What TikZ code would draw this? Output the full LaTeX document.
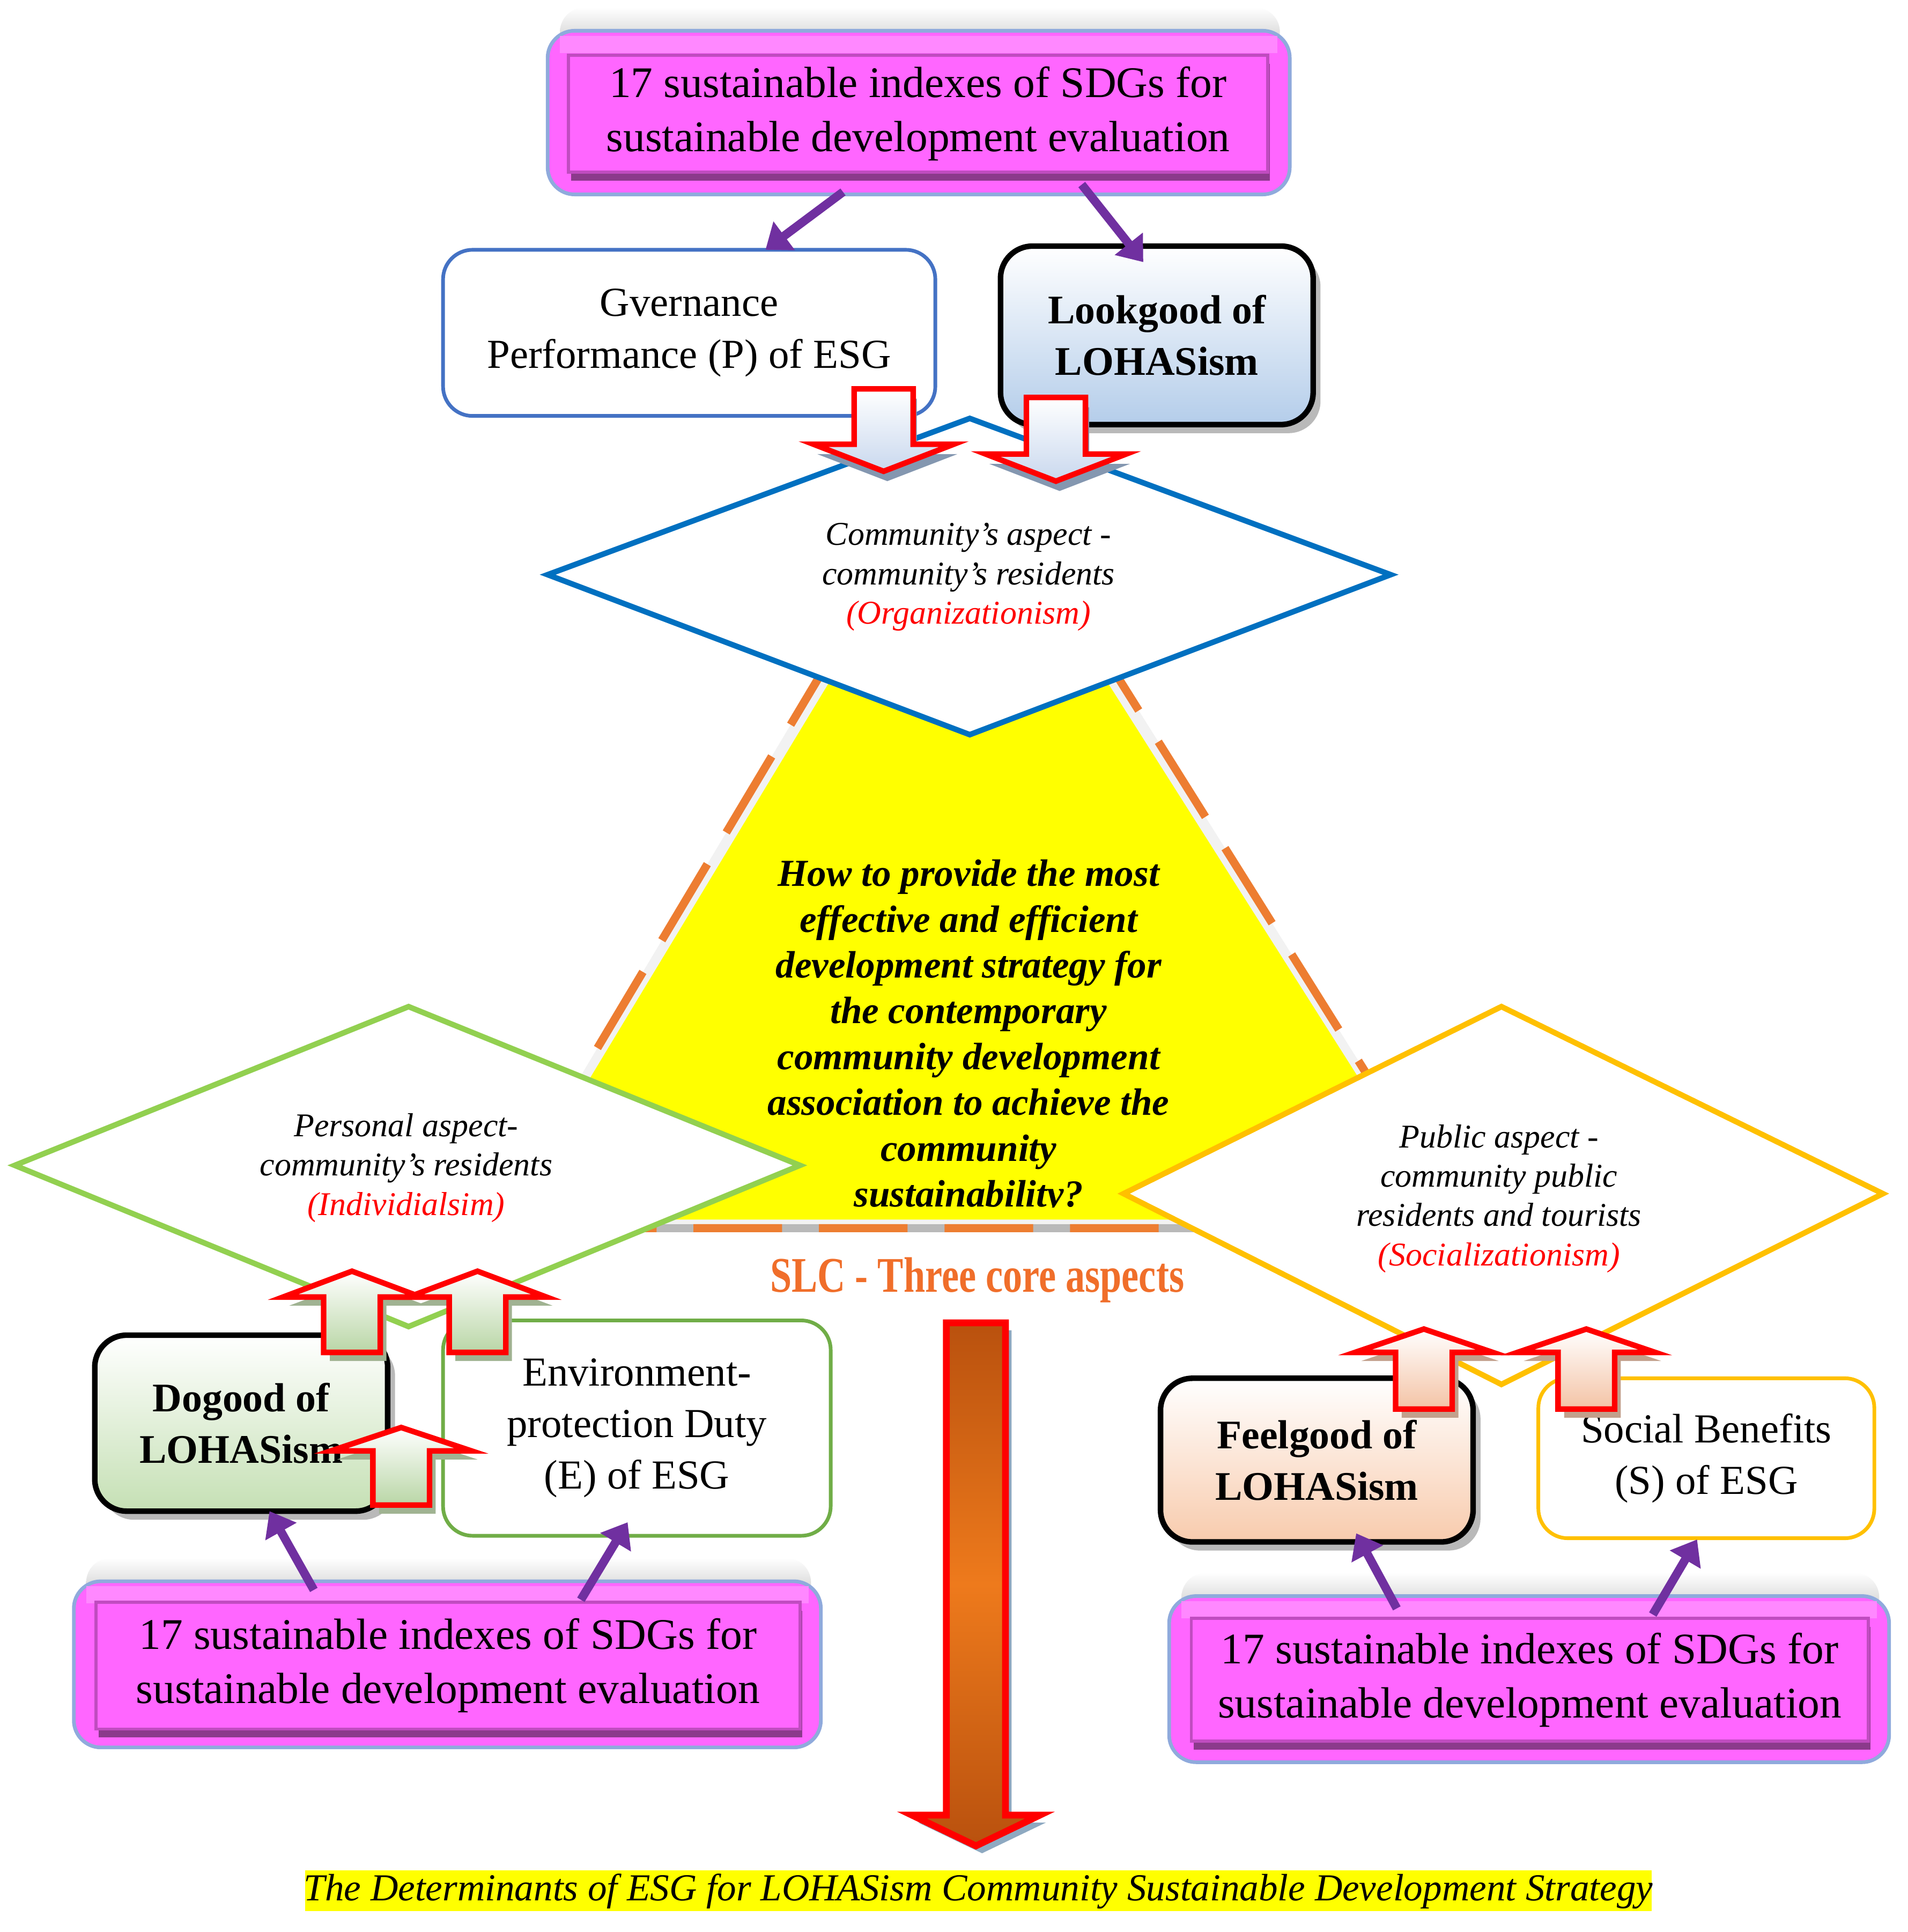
\documentclass[tikz,border=0pt]{standalone}
\usepackage{fontspec}
\setmainfont{Liberation Serif}
\usepackage{graphicx}
\usetikzlibrary{arrows.meta,shadows,calc}
\definecolor{mag}{HTML}{FF66FF}
\definecolor{maglight}{HTML}{FF88FF}
\definecolor{sdgedge}{HTML}{8FAADC}
\definecolor{sdgdark}{HTML}{C04CC0}
\definecolor{sdgshadow}{HTML}{8B3A8B}
\definecolor{purp}{HTML}{7030A0}
\definecolor{dblue}{HTML}{0070C0}
\definecolor{gblue}{HTML}{4472C4}
\definecolor{dgreen}{HTML}{92D050}
\definecolor{egreen}{HTML}{70AD47}
\definecolor{gold}{HTML}{FFC000}
\definecolor{lookfill}{HTML}{B4CDEA}
\definecolor{dofill}{HTML}{C5E0B4}
\definecolor{feelfill}{HTML}{F8CBAD}
\definecolor{ablue}{HTML}{C9D8EE}
\definecolor{agreen}{HTML}{B9D6A6}
\definecolor{apeach}{HTML}{F4C3A5}
\definecolor{shblue}{HTML}{8497B0}
\definecolor{shgreen}{HTML}{A0B392}
\definecolor{shpeach}{HTML}{C2A08C}
\definecolor{abrown}{HTML}{B9510E}
\definecolor{aorange}{HTML}{EE7A1C}
\definecolor{slcorange}{HTML}{F06E2A}
\definecolor{slcshadow}{HTML}{8EA9C1}
\definecolor{dashorange}{HTML}{ED7D31}
\definecolor{capyellow}{HTML}{FFFF00}
\newcommand\myblock[8]{%
  \draw[#1] (#2,#3) coordinate (#8) -- ({#2+#6},#4) -- ({#2+#7},#4) -- ({#2+#7},#5)
    -- ({#2-#7},#5) -- ({#2-#7},#4) -- ({#2-#6},#4) -- cycle;}
\newcommand\sdgframe[4]{% x1 y1 x2 y2 : blurred shadow above, then the rounded outer frame
  \shade[top color=white, bottom color=gray!60, rounded corners=20] ({#1+10},{#2-19}) rectangle ({#3-8},{#2+30});
  \draw[sdgouter] (#1,#2) rectangle (#3,#4);
  \fill[maglight] ({#1+10},{#2+4}) rectangle ({#3-10},{#2+18});}
\begin{document}
\begin{tikzpicture}[x=1pt,y=-1pt,
  boxtxt/.style={font=\fontsize{33.5}{42}\selectfont, align=center},
  sdgtxt/.style={font=\fontsize{35.5}{44}\selectfont, align=center},
  diatxt/.style={font=\fontsize{27}{32}\selectfont\itshape, align=center, inner sep=0},
  sdgouter/.style={fill=mag, draw=sdgedge, line width=3, rounded corners=22},
  sdginner/.style={sdgtxt, fill=mag, draw=sdgdark, line width=2.5, inner sep=0,
     drop shadow={shadow xshift=2pt, shadow yshift=-7pt, fill=sdgshadow, opacity=1}},
  esgbox/.style={boxtxt, fill=white, line width=3, rounded corners=24, inner sep=0},
  lohasbox/.style={boxtxt, font=\fontsize{33}{42}\selectfont\bfseries, draw=black, line width=4.5,
     rounded corners=26, inner sep=0, top color=white,
     drop shadow={shadow xshift=6pt, shadow yshift=-7pt, fill=gray!55, opacity=1}},
  redarr/.style={draw=red, line width=4.5, line join=miter},
  arrblue/.style={redarr, top color=white, bottom color=ablue,
     drop shadow={shadow xshift=3pt, shadow yshift=-8pt, fill=shblue, opacity=1}},
  arrgreen/.style={redarr, top color=white, bottom color=agreen,
     drop shadow={shadow xshift=5pt, shadow yshift=-7pt, fill=shgreen, opacity=1}},
  arrpeach/.style={redarr, top color=white, bottom color=apeach,
     drop shadow={shadow xshift=5pt, shadow yshift=-7pt, fill=shpeach, opacity=1}},
  purparr/.style={draw=purp, line width=7, -{Triangle[length=19,width=28]}},
  diaborder/.style={fill=white, line width=4.5, line join=miter}
]
\useasboundingbox (0,0) rectangle (1550,1570);

% ---------- central yellow triangle ----------
\coordinate (tA) at (784,352);
\coordinate (tL) at (398,998);
\coordinate (tR) at (1189,998);
\fill[gray!10] (tA) -- (tL) -- (tR) -- cycle;
\fill[capyellow] (784,372) -- (410,991) -- (1177,991) -- cycle;
\draw[gray!55, line width=6.6] (tL) -- (tR);
\draw[dashorange, line width=6.6, dash pattern=on 72 off 30, line join=miter] (tA) -- (tL) -- (tR) -- cycle;
\begin{scope}
  \clip (300,600) rectangle (1300,981);
  \node[font=\fontsize{31}{37.2}\selectfont\bfseries\itshape, align=center, inner sep=0] (question) at (787,843)
   {How to provide the most\\effective and efficient\\development strategy for\\the contemporary\\community development\\association to achieve the\\community\\sustainability?};
\end{scope}

% ---------- diamonds ----------
\draw[diaborder, draw=dblue] (788,340) coordinate (cT) -- (1130,467) coordinate (cR) -- (788,597) coordinate (cB) -- (445,467) coordinate (cL) -- cycle;
\node[diatxt] (commtxt) at (787,469) {Community's aspect -\\community's residents\\\textcolor{red}{(Organizationism)}};

\draw[diaborder, draw=dgreen] (332,818) coordinate (pT) -- (650,947) coordinate (pR) -- (332,1078) coordinate (pB) -- (12,947) coordinate (pL) -- cycle;
\node[diatxt] (perstxt) at (330,949) {Personal aspect-\\community's residents\\\textcolor{red}{(Individialsim)}};

\draw[diaborder, draw=gold] (1220,818) coordinate (uT) -- (1530,970) coordinate (uR) -- (1220,1125) coordinate (uB) -- (913,970) coordinate (uL) -- cycle;
\node[diatxt] (pubtxt) at (1218,974) {Public aspect -\\community public\\residents and tourists\\\textcolor{red}{(Socializationism)}};

% ---------- SLC label ----------
\node[font=\fontsize{30}{36}\selectfont\bfseries, text=slcorange, inner sep=0] (slc) at (794,1040)
  {\scalebox{1.05}[1.35]{SLC - Three core aspects}};

% ---------- top SDG box ----------
\sdgframe{445}{25}{1048}{158}
\node[sdginner, minimum width=568, minimum height=95] (sdgtop) at (746,92.5)
  {17 sustainable indexes of SDGs for\\sustainable development evaluation};

% ---------- top boxes ----------
\node[esgbox, draw=gblue, minimum width=400, minimum height=135] (gov) at (560,270.5)
  {Gvernance\\Performance (P) of ESG};
\node[lohasbox, bottom color=lookfill, minimum width=254, minimum height=145] (look) at (940,272.5)
  {Lookgood of\\LOHASism};

\coordinate (pa1s) at (685,156); \coordinate (pa1e) at (622,203);
\coordinate (pa2s) at (879,150); \coordinate (pa2e) at (929,213);
\draw[purparr] (pa1s) -- (pa1e);
\draw[purparr] (pa2s) -- (pa2e);

\myblock{arrblue}{718}{383}{361}{316}{57}{24}{dn1}
\myblock{arrblue}{858}{391}{369}{323}{57}{24}{dn2}

% ---------- bottom-left group ----------
\node[lohasbox, bottom color=dofill, minimum width=238, minimum height=143] (dogood) at (196,1156.5)
  {Dogood of\\LOHASism};
\node[esgbox, draw=egreen, minimum width=315, minimum height=175] (env) at (517.5,1160.5)
  {Environment-\\protection Duty\\(E) of ESG};
\sdgframe{60}{1285}{667}{1420}
\node[sdginner, minimum width=572, minimum height=103] (sdgbl) at (364,1353.5)
  {17 sustainable indexes of SDGs for\\sustainable development evaluation};

\myblock{arrgreen}{286}{1033}{1054}{1099}{56}{23}{upA}
\myblock{arrgreen}{388}{1033}{1054}{1099}{56}{23}{upB}
\myblock{arrgreen}{326}{1160}{1179}{1223}{57}{23}{upC}

\coordinate (pb1s) at (255,1292); \coordinate (pb1e) at (219,1228);
\coordinate (pb2s) at (472,1300); \coordinate (pb2e) at (510,1237);
\draw[purparr] (pb1s) -- (pb1e);
\draw[purparr] (pb2s) -- (pb2e);

% ---------- bottom-right group ----------
\node[lohasbox, bottom color=feelfill, minimum width=254, minimum height=133] (feel) at (1070,1186.5)
  {Feelgood of\\LOHASism};
\node[esgbox, draw=gold, minimum width=273, minimum height=130] (social) at (1386.5,1185)
  {Social Benefits\\(S) of ESG};
\sdgframe{950}{1297}{1535}{1432}
\node[sdginner, minimum width=550, minimum height=100] (sdgbr) at (1243,1365)
  {17 sustainable indexes of SDGs for\\sustainable development evaluation};

\myblock{arrpeach}{1157}{1080}{1099}{1145}{56}{23}{upD}
\myblock{arrpeach}{1289}{1080}{1099}{1145}{56}{23}{upE}

\coordinate (pc1s) at (1135,1307); \coordinate (pc1e) at (1102,1246);
\coordinate (pc2s) at (1343,1312); \coordinate (pc2e) at (1379,1251);
\draw[purparr] (pc1s) -- (pc1e);
\draw[purparr] (pc2s) -- (pc2e);

% ---------- big down arrow ----------
\myblock{redarr, line width=5.5, top color=abrown, bottom color=abrown, middle color=aorange,
   drop shadow={shadow xshift=5pt, shadow yshift=-6pt, fill=slcshadow, opacity=1}}{793}{1500}{1475}{1075}{52}{24}{bigdn}

% ---------- caption ----------
\fill[capyellow] (248,1520) rectangle (1342,1553);
\node[font=\fontsize{31}{32}\selectfont\itshape, inner sep=0] (caption) at (795,1537)
  {The Determinants of ESG for LOHASism Community Sustainable Development Strategy};
\end{tikzpicture}
\end{document}
